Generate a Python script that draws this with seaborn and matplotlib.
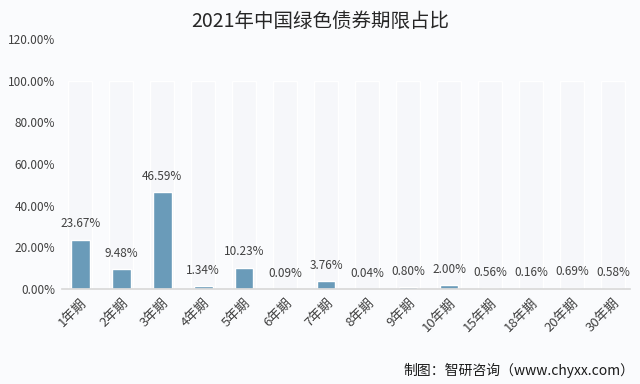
import matplotlib
matplotlib.use("Agg")
import matplotlib.pyplot as plt
import pandas as pd
import seaborn as sns

terms = ["1年期", "2年期", "3年期", "4年期", "5年期", "6年期", "7年期", "8年期",
         "9年期", "10年期", "15年期", "18年期", "20年期", "30年期"]
shares = [23.67, 9.48, 46.59, 1.34, 10.23, 0.09, 3.76, 0.04, 0.80, 2.00, 0.56, 0.16, 0.69, 0.58]
yticks = [0, 20, 40, 60, 80, 100, 120]

df = pd.DataFrame({"期限": terms, "占比": shares})

sns.set_theme(style="white")
plt.rcParams["font.family"] = ["Noto Sans CJK SC", "DejaVu Sans"]

fig = plt.figure(figsize=(6.4, 3.84), dpi=100, facecolor="#fafbfd")
ax = fig.add_axes([0.097, 0.247, 0.887, 0.651])
ax.set_facecolor("#fafbfd")

# faint background columns (3D-style back wall in the original)
sns.barplot(data=pd.DataFrame({"期限": terms, "占比": [100] * len(terms)}), x="期限", y="占比",
            color="#f6f7fa", saturation=1, width=0.6, ax=ax, zorder=1)
sns.barplot(data=df, x="期限", y="占比", color="#6a9bb9", saturation=1, width=0.46, ax=ax, zorder=2)

for i, v in enumerate(shares):
    ax.text(i, v + 4.5, "%.2f%%" % v, ha="center", va="bottom", fontsize=8.5, color="#404040")

ax.set_ylim(0, 120)
ax.set_xlim(-0.44, len(terms) - 0.59)
ax.set_yticks(yticks)
ax.set_yticklabels(["%.2f%%" % t for t in yticks], fontsize=8.5, color="#404040")
ax.set_xticks(range(len(terms)))
ax.set_xticklabels(terms, rotation=45, ha="right", rotation_mode="anchor", fontsize=9.5, color="#404040")
ax.tick_params(axis="both", length=0, pad=5)
ax.set_xlabel("")
ax.set_ylabel("")
for s in ["top", "right", "left"]:
    ax.spines[s].set_visible(False)
ax.spines["bottom"].set_color("#d9d9d9")

fig.text(0.5, 0.943, "2021年中国绿色债券期限占比", ha="center", va="center", fontsize=14, color="#262626")
fig.text(0.992, 0.035, "制图：智研咨询（www.chyxx.com）", ha="right", va="center", fontsize=10, color="#1a1a1a")

fig.savefig("out.png", dpi=100, facecolor=fig.get_facecolor())
